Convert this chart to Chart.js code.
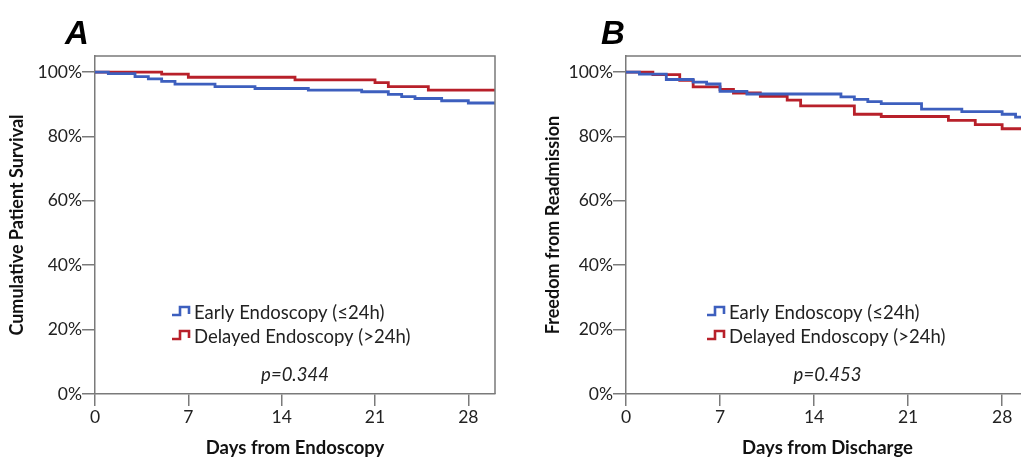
<!DOCTYPE html>
<html>
<head>
<meta charset="utf-8">
<script src="https://cdn.jsdelivr.net/npm/chart.js@4"></script>
<style>
  html, body { margin:0; padding:0; background:#fff; overflow:hidden; width:1021px; height:457px; }
  .wrap { position:absolute; top:0; height:457px; }
</style>
</head>
<body>
<div class="wrap" id="wa" style="left:0;width:510px;"><canvas id="ca"></canvas></div>
<div class="wrap" id="wb" style="left:510px;width:530px;"><canvas id="cb"></canvas></div>
<script>
// ---- Data ----
const seriesLabels = ['Early Endoscopy (\u226424h)', 'Delayed Endoscopy (>24h)'];

const aEarlyDays   = [0, 1, 3, 4, 5, 6, 9, 12, 16, 20, 22, 23, 24, 26, 28, 30];
const aEarlyValues = [100, 99.5, 98.6, 97.9, 97.1, 96.25, 95.5, 94.9, 94.4, 93.9, 93.1, 92.4, 91.8, 91.1, 90.4, 90.4];
const aDelayedDays   = [0, 5, 7, 15, 21, 22, 25, 30];
const aDelayedValues = [100, 99.4, 98.4, 97.6, 96.7, 95.5, 94.4, 94.4];

const bEarlyDays   = [0, 1, 3, 5, 6, 7, 9, 16, 17, 18, 19, 22, 25, 28, 29, 30];
const bEarlyValues = [100, 99.4, 97.7, 96.9, 96.3, 94.0, 93.2, 92.3, 91.5, 90.8, 90.2, 88.5, 87.7, 86.9, 86.0, 86.0];
const bDelayedDays   = [0, 2, 4, 5, 7, 8, 10, 12, 13, 17, 19, 24, 26, 28, 30];
const bDelayedValues = [100, 99.2, 97.4, 95.4, 94.6, 93.5, 92.5, 91.3, 89.5, 86.9, 86.2, 85.0, 83.7, 82.4, 82.4];

const yTickValues = [0, 20, 40, 60, 80, 100];
const xTickValues = [0, 7, 14, 21, 28];

const pValueA = 'p=0.344';
const pValueB = 'p=0.453';

// ---- Styles ----
const BLUE = '#3d5fbe';
const RED = '#b8202a';
const AXIS = '#7a7a7a';
const FONT = 'Lato, "Open Sans", sans-serif';

function pts(xs, ys) { return xs.map((x, i) => ({ x: x, y: ys[i] })); }

const panelPlugin = {
  id: 'panel',
  afterDraw(chart, args, opts) {
    const { ctx, chartArea: a } = chart;
    ctx.save();
    // frame
    ctx.strokeStyle = AXIS;
    ctx.lineWidth = 1.5;
    ctx.beginPath();
    ctx.moveTo(a.left, a.top);
    ctx.lineTo(a.right, a.top);
    ctx.lineTo(a.right, a.bottom);
    ctx.stroke();
    // panel letter
    ctx.fillStyle = '#000';
    ctx.font = 'italic bold 33px "Liberation Sans", Arial, sans-serif';
    ctx.textAlign = 'left';
    ctx.textBaseline = 'alphabetic';
    ctx.fillText(opts.letter, opts.letterX, 44);
    // legend
    ctx.font = '18.5px ' + FONT;
    ctx.textBaseline = 'middle';
    const lx = a.left + opts.legendX;
    const rows = [313, 337];
    chart.data.datasets.forEach((ds, i) => {
      const cy = rows[i];
      ctx.strokeStyle = ds.borderColor;
      ctx.lineWidth = 2.6;
      ctx.beginPath();
      ctx.moveTo(lx, cy + 2);
      ctx.lineTo(lx + 8, cy + 2);
      ctx.lineTo(lx + 8, cy - 6);
      ctx.lineTo(lx + 17, cy - 6);
      ctx.lineTo(lx + 17, cy + 1);
      ctx.stroke();
      ctx.fillStyle = '#222';
      ctx.fillText(ds.label, lx + 22, cy);
    });
    // p value
    ctx.font = 'italic 18.5px ' + FONT;
    ctx.textAlign = 'center';
    ctx.fillText(opts.pText, (a.left + a.right) / 2, 375);
    ctx.restore();
  }
};

function makeChart(id, early, delayed, xTitle, yTitle, cfg) {
  return new Chart(document.getElementById(id), {
    type: 'line',
    data: {
      datasets: [
        { label: seriesLabels[0], data: early, borderColor: BLUE, borderWidth: 2.8, stepped: true, pointRadius: 0, fill: false },
        { label: seriesLabels[1], data: delayed, borderColor: RED, borderWidth: 2.8, stepped: true, pointRadius: 0, fill: false }
      ]
    },
    options: {
      responsive: true,
      maintainAspectRatio: false,
      animation: false,
      events: [],
      layout: { padding: { left: 0, top: 56, right: cfg.padRight, bottom: 0 } },
      plugins: {
        legend: { display: false },
        tooltip: { enabled: false },
        panel: { letter: cfg.letter, letterX: cfg.letterX, legendX: cfg.legendX, pText: cfg.pText }
      },
      scales: {
        x: {
          type: 'linear', min: 0, max: 30,
          afterBuildTicks: s => { s.ticks = xTickValues.map(v => ({ value: v })); },
          afterFit: s => { s.height = 63; },
          ticks: { color: '#222', font: { family: FONT, size: 17.5 }, padding: 1, maxRotation: 0 },
          grid: { drawOnChartArea: false, drawTicks: true, tickLength: 12, color: AXIS, lineWidth: 1.5 },
          border: { display: true, color: AXIS, width: 1.5 },
          title: { display: true, text: xTitle, color: '#111', font: { family: FONT, size: 18.5, weight: 'bold', lineHeight: 1 }, padding: { top: 0, bottom: 0 } }
        },
        y: {
          min: 0, max: 105,
          afterBuildTicks: s => { s.ticks = yTickValues.map(v => ({ value: v })); },
          afterFit: s => { s.width = cfg.yWidth; },
          ticks: { color: '#222', font: { family: FONT, size: 17.5 }, padding: 0, callback: v => v + '%' },
          grid: { drawOnChartArea: false, drawTicks: true, tickLength: 13, color: AXIS, lineWidth: 1.5 },
          border: { display: true, color: AXIS, width: 1.5 },
          title: { display: true, text: yTitle, color: '#111', font: { family: FONT, size: 18, weight: 'bold', lineHeight: 1.2 }, padding: { top: cfg.yTitlePad, bottom: 0 } }
        }
      }
    },
    plugins: [panelPlugin]
  });
}

makeChart('ca', pts(aEarlyDays, aEarlyValues), pts(aDelayedDays, aDelayedValues),
  'Days from Endoscopy', 'Cumulative Patient Survival',
  { padRight: 15, yWidth: 95, yTitlePad: 6.5, letter: 'A', letterX: 65, legendX: 77, pText: pValueA });

makeChart('cb', pts(bEarlyDays, bEarlyValues), pts(bDelayedDays, bDelayedValues),
  'Days from Discharge', 'Freedom from Readmission',
  { padRight: 11, yWidth: 116, yTitlePad: 32.5, letter: 'B', letterX: 91, legendX: 81, pText: pValueB });
</script>
</body>
</html>
